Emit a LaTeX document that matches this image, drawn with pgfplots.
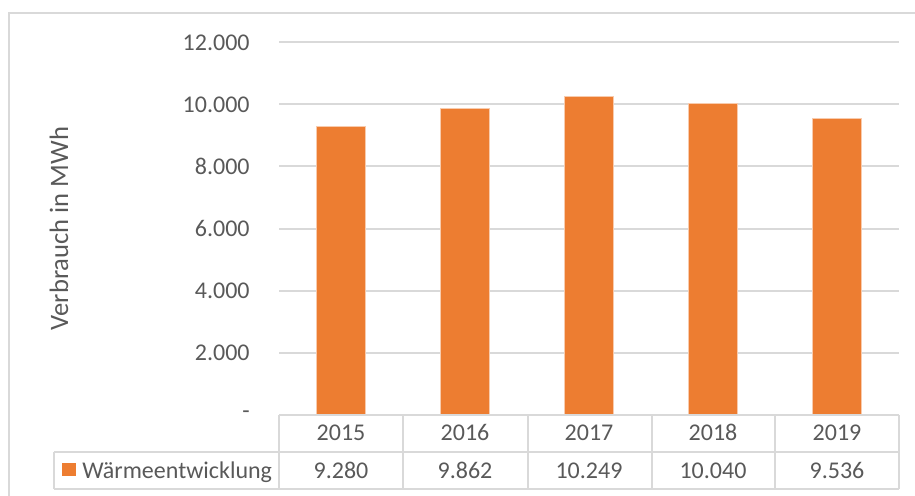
\documentclass[border=0pt]{standalone}
\usepackage{pgfplots}
\pgfplotsset{compat=1.18}
\usepackage{pgfplotstable}
\usepackage{fontspec}
\setmainfont{Carlito}
\definecolor{barc}{HTML}{ED7D31}
\definecolor{barl}{HTML}{F8CBAD}
\definecolor{gridc}{HTML}{D9D9D9}
\definecolor{txt}{HTML}{595959}
\newcommand\f{\fontsize{12}{14.4}\selectfont}
\pgfplotstableread{
x y
0 9280
1 9862
2 10249
3 10040
4 9536
}\data
\begin{document}
\begin{tikzpicture}
\path[use as bounding box] (0,0) rectangle (457.5pt,-248pt);
\draw[gridc, line width=0.8pt] (4.5pt,-248pt) -- (4.5pt,-6.5pt) -- (457.5pt,-6.5pt);
\begin{axis}[
  at={(139.5pt,-207.25pt)}, anchor=south west,
  scale only axis, width=310pt, height=186pt,
  xmin=-0.5, xmax=4.5, ymin=0, ymax=12000,
  clip=false,
  scaled y ticks=false,
  axis line style={draw=none},
  major tick style={draw=none},
  ymajorgrids,
  major grid style={gridc, line width=1pt},
  ytick={0,2000,4000,6000,8000,10000,12000},
  yticklabels={{-\hspace{4.7pt}},2.000,4.000,6.000,8.000,10.000,12.000},
  yticklabel style={anchor=east, inner sep=0pt, xshift=-14.5pt, text=txt, font=\f},
  xtick={0,1,2,3,4},
  xticklabels={2015,2016,2017,2018,2019},
  xticklabel style={anchor=base, inner sep=0pt, yshift=-13.1pt, text=txt, font=\f},
]
\addplot[ybar, bar shift=0pt, bar width=24.5pt, fill=barc, draw=barl, line width=0.4pt]
  table[x=x, y=y] {\data};
\addplot[draw=none, mark=none, point meta=explicit,
  nodes near coords={\pgfmathprintnumber[assume math mode=true, fixed, 1000 sep={.}]{\pgfplotspointmeta}},
  every node near coord/.style={anchor=base, inner sep=0pt, yshift=-31.95pt, text=txt, font=\f}]
  table[x=x, y expr=0, meta=y] {\data};
\end{axis}
% data table grid
\begin{scope}[gridc, line width=1pt]
\draw (139.5pt,-207.5pt) -- (449.5pt,-207.5pt);
\draw (27pt,-226pt) -- (449.5pt,-226pt);
\draw (27pt,-244.5pt) -- (449.5pt,-244.5pt);
\draw (27pt,-226pt) -- (27pt,-244.5pt);
\foreach \xx in {139.5,201.5,264,326,387.5,449.5}
  \draw (\xx pt,-207.5pt) -- (\xx pt,-244.5pt);
\end{scope}
\fill[barc] (31pt,-231.5pt) rectangle (38pt,-238pt);
\node[anchor=base west, inner sep=0pt, text=txt, font=\f] at (41pt,-239.2pt) {Wärmeentwicklung};
\node[rotate=90, anchor=base, inner sep=0pt, text=txt, font=\fontsize{13.3}{16}\selectfont] at (34pt,-114.25pt) {Verbrauch in MWh};
\end{tikzpicture}
\end{document}
